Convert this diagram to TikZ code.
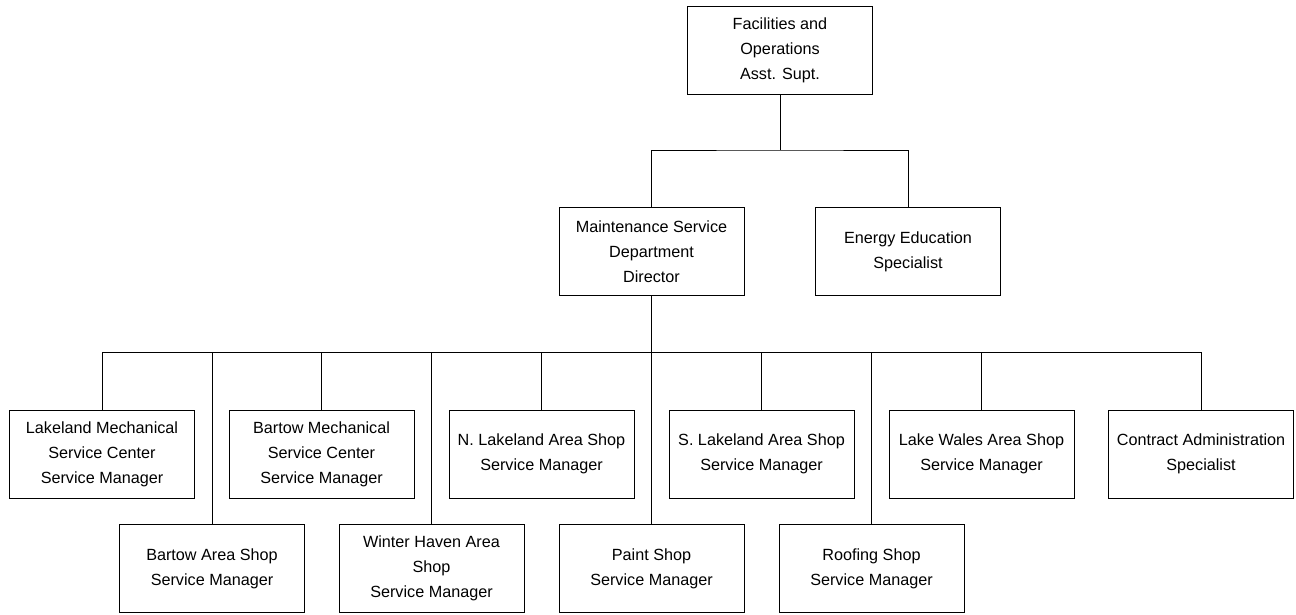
\documentclass[tikz,border=0pt]{standalone}
\usepackage{fontspec}
\setmainfont{Liberation Sans}
\begin{document}
\begin{tikzpicture}[x=1pt,y=-1pt,
  orgbox/.style={draw=black,line width=1pt,minimum width=185pt,minimum height=88pt,
    inner sep=0pt,align=center,font=\fontsize{16.2}{25}\selectfont},
  link/.style={draw=black,line width=1pt}]
\useasboundingbox (0,0) rectangle (1296,614);
% top level
\node[orgbox] (fac) at (780,50) {Facilities and\\Operations\\Asst. Supt.};
% second level
\node[orgbox] (mnt) at (651.5,251.5) {Maintenance Service\\Department\\Director};
\node[orgbox] (eng) at (908,251.5) {Energy Education\\Specialist};
% third level, upper row
\node[orgbox] (lak) at (102,454) {Lakeland Mechanical\\Service Center\\Service Manager};
\node[orgbox] (bmc) at (321.5,454) {Bartow Mechanical\\Service Center\\Service Manager};
\node[orgbox] (nla) at (541.5,454) {N. Lakeland Area Shop\\Service Manager};
\node[orgbox] (sla) at (761.5,454) {S. Lakeland Area Shop\\Service Manager};
\node[orgbox] (lkw) at (981.5,454) {Lake Wales Area Shop\\Service Manager};
\node[orgbox] (con) at (1201,454) {Contract Administration\\Specialist};
% third level, lower row
\node[orgbox] (bas) at (212,568.5) {Bartow Area Shop\\Service Manager};
\node[orgbox] (wha) at (431.5,568.5) {Winter Haven Area\\Shop\\Service Manager};
\node[orgbox] (pnt) at (651.5,568.5) {Paint Shop\\Service Manager};
\node[orgbox] (rof) at (871.5,568.5) {Roofing Shop\\Service Manager};
% bus lines
\coordinate (busA) at (780,150);
\coordinate (busB) at (651.5,352.5);
\draw[link] (fac.south) -- (busA);
\draw[link] (mnt.north) |- (busA) -| (eng.north);
\draw[link] (mnt.south) -- (pnt.north);
\draw[link] (lak.north) |- (busB) -| (con.north);
\foreach \n in {bmc,nla,sla,lkw,bas,wha,rof}
  \draw[link] (\n.north) -- (\n.north |- busB);
\end{tikzpicture}
\end{document}
